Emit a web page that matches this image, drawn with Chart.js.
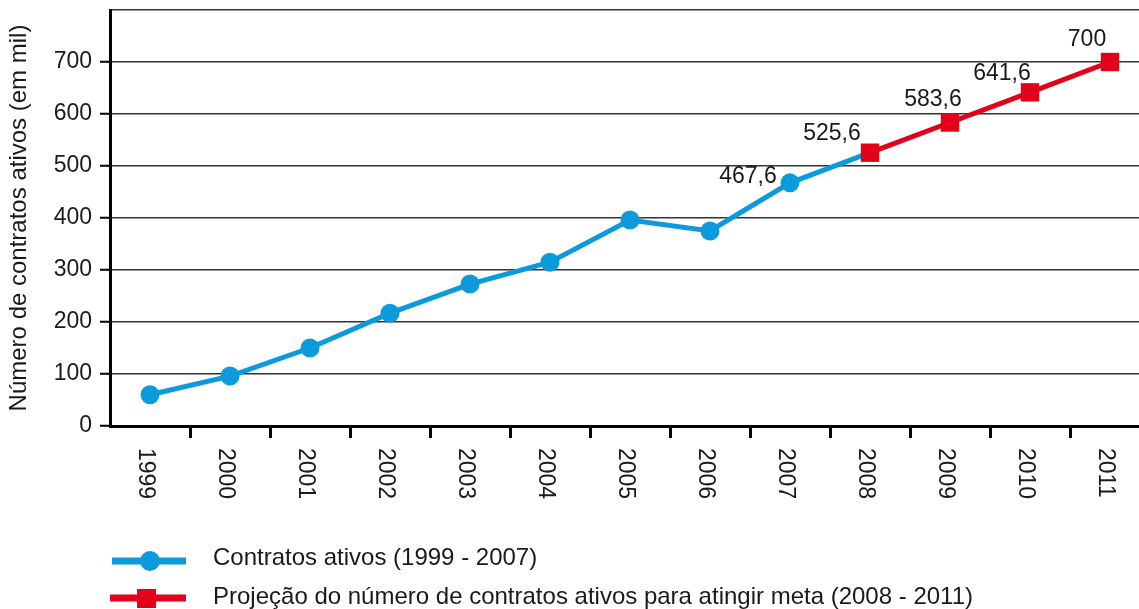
<!DOCTYPE html>
<html>
<head>
    <title>Contratos ativos</title>
    <script src="https://cdn.jsdelivr.net/npm/chart.js"></script>
    <style>
        body { margin: 0; overflow: hidden; background: #fff; }
        #box { width: 1160px; height: 609px; }
    </style>
</head>
<body>
    <div id="box">
        <canvas id="grafico"></canvas>
    </div>
    <script>
        // dados
        var anos = ['1999', '2000', '2001', '2002', '2003', '2004', '2005', '2006', '2007', '2008', '2009', '2010', '2011'];
        var contratos = [60, 96, 150, 217, 273, 315, 396, 375, 467.6]; // 1999 - 2007
        var projecao = [525.6, 583.6, 641.6, 700];                       // 2008 - 2011
        var yTicks = [0, 100, 200, 300, 400, 500, 600, 700];

        var legendas = ['Contratos ativos (1999 - 2007)', 'Projeção do número de contratos ativos para atingir meta (2008 - 2011)'];
        var tituloY = 'Número de contratos ativos (em mil)';

        var azul = '#0b9bdc';
        var vermelho = '#e2001b';
        var texto = '#1a1a1a';
        var fonte = 'Arial, "Liberation Sans", sans-serif';

        function fmt(v) { return String(v).replace('.', ','); }

        // a linha azul vai até 2008 para encontrar a projeção
        var serieAzul = contratos.concat([projecao[0]]);
        while (serieAzul.length < anos.length) serieAzul.push(null);
        var serieVermelha = [];
        for (let i = 0; i < contratos.length; i++) serieVermelha.push(null);
        serieVermelha = serieVermelha.concat(projecao);

        // rótulos girados no sentido horário (o Chart.js só gira no anti-horário)
        var rotulosX = {
            id: 'rotulosX',
            afterDraw(chart) {
                var ctx = chart.ctx;
                var x = chart.scales.x;
                ctx.save();
                ctx.font = '23px ' + fonte;
                ctx.fillStyle = texto;
                ctx.textAlign = 'left';
                ctx.textBaseline = 'middle';
                anos.forEach(function (a, i) {
                    ctx.save();
                    ctx.translate(x.getPixelForValue(i) - 5, chart.chartArea.bottom + 22);
                    ctx.rotate(Math.PI / 2);
                    ctx.fillText(a, 0, 0);
                    ctx.restore();
                });
                ctx.restore();
            }
        };

        // valores escritos junto aos pontos (2007 em diante)
        var valores = {
            id: 'valores',
            afterDatasetsDraw(chart) {
                var ctx = chart.ctx;
                var desl = { 8: [-42, -6], 9: [-38, -19], 10: [-17, -23], 11: [-28, -19], 12: [-23, -22] };
                ctx.save();
                ctx.font = '23px ' + fonte;
                ctx.fillStyle = texto;
                ctx.textAlign = 'center';
                ctx.textBaseline = 'middle';
                var mAzul = chart.getDatasetMeta(0).data;
                var mVerm = chart.getDatasetMeta(1).data;
                Object.keys(desl).forEach(function (k) {
                    var i = Number(k);
                    var pt = i < contratos.length ? mAzul[i] : mVerm[i];
                    var v = i < contratos.length ? contratos[i] : projecao[i - contratos.length];
                    ctx.fillText(fmt(v), pt.x + desl[k][0], pt.y + desl[k][1]);
                });
                ctx.restore();
            }
        };

        // legenda em duas linhas, à esquerda
        var legenda = {
            id: 'legenda',
            afterDraw(chart) {
                var ctx = chart.ctx;
                var y1 = chart.chartArea.bottom + 135;
                var y2 = chart.chartArea.bottom + 172;
                ctx.save();
                ctx.lineWidth = 7;
                ctx.strokeStyle = azul;
                ctx.beginPath(); ctx.moveTo(112, y1); ctx.lineTo(186, y1); ctx.stroke();
                ctx.fillStyle = azul;
                ctx.beginPath(); ctx.arc(150, y1, 10, 0, Math.PI * 2); ctx.fill();
                ctx.strokeStyle = vermelho;
                ctx.beginPath(); ctx.moveTo(110, y2); ctx.lineTo(186, y2); ctx.stroke();
                ctx.fillStyle = vermelho;
                ctx.fillRect(137, y2 - 9, 19, 19);
                ctx.font = '24px ' + fonte;
                ctx.fillStyle = texto;
                ctx.textAlign = 'left';
                ctx.textBaseline = 'middle';
                ctx.fillText(legendas[0], 213, y1 - 3);
                ctx.fillText(legendas[1], 213, y2 - 1);
                ctx.restore();
            }
        };

        var ctx = document.getElementById('grafico').getContext('2d');
        var grafico = new Chart(ctx, {
            type: 'line',
            data: {
                labels: anos,
                datasets: [{
                    label: legendas[0],
                    data: serieAzul,
                    borderColor: azul,
                    backgroundColor: azul,
                    borderWidth: 5,
                    tension: 0,
                    pointRadius: function (c) { return c.dataIndex < contratos.length ? 9.5 : 0; },
                    pointBorderWidth: 0,
                    pointHoverRadius: 0,
                    order: 2
                }, {
                    label: legendas[1],
                    data: serieVermelha,
                    borderColor: vermelho,
                    backgroundColor: vermelho,
                    borderWidth: 5,
                    tension: 0,
                    pointStyle: 'rect',
                    pointRadius: 13,
                    pointBorderWidth: 0,
                    pointHoverRadius: 0,
                    order: 1
                }]
            },
            options: {
                responsive: true,
                maintainAspectRatio: false,
                animation: false,
                events: [],
                layout: { autoPadding: false, padding: { top: 10, right: 10, left: 0, bottom: 0 } },
                plugins: {
                    legend: { display: false },
                    tooltip: { enabled: false }
                },
                scales: {
                    x: {
                        offset: true,
                        grid: {
                            offset: true,
                            drawOnChartArea: false,
                            drawTicks: true,
                            tickLength: 12,
                            tickWidth: 3,
                            tickColor: function (c) { return c.index === 0 ? 'rgba(0,0,0,0)' : '#000'; }
                        },
                        border: { display: true, color: '#000', width: 3 },
                        ticks: { display: false },
                        afterFit: function (s) { s.height = 183; s.paddingLeft = 0; s.paddingRight = 0; }
                    },
                    y: {
                        min: 0,
                        max: 800,
                        afterBuildTicks: function (s) {
                            s.ticks = yTicks.concat([800]).map(function (v) { return { value: v }; });
                        },
                        grid: {
                            color: '#333',
                            lineWidth: 1.5,
                            tickLength: 10,
                            tickWidth: 2,
                            tickColor: function (c) { return c.tick && c.tick.value === 800 ? 'rgba(0,0,0,0)' : '#000'; }
                        },
                        border: { display: true, color: '#000', width: 3 },
                        ticks: {
                            padding: 8,
                            color: texto,
                            font: { family: fonte, size: 23 },
                            callback: function (v) { return yTicks.indexOf(v) >= 0 ? String(v) : ''; }
                        },
                        title: {
                            display: true,
                            text: tituloY,
                            color: texto,
                            font: { family: fonte, size: 24 },
                            padding: { top: 5, bottom: 0 }
                        },
                        afterFit: function (s) { s.width = 110; s.paddingTop = 0; s.paddingBottom = 0; }
                    }
                }
            },
            plugins: [rotulosX, valores, legenda]
        });
    </script>
</body>
</html>
